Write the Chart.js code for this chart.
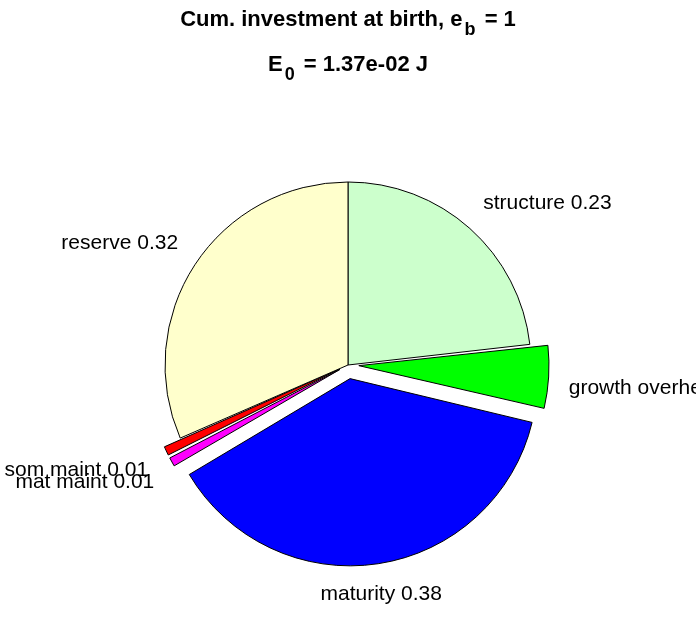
<!DOCTYPE html>
<html>
<head>
<meta charset="utf-8">
<script src="https://cdn.jsdelivr.net/npm/chart.js@4/dist/chart.umd.min.js"></script>
<style>
  body { margin: 0; background: #fff; }
  #wrap { position: relative; width: 696px; height: 618px; }
  #title {
    position: absolute; left: 0; top: -3px; width: 696px;
    text-align: center; font: bold 22px "Liberation Sans", Arial, sans-serif;
    line-height: 43px; color: #000;
  }
  #title span.sb { position: relative; top: 9px; font-size: 18px; margin: 0 3px 0 2px; }
</style>
</head>
<body>
<div id="wrap">
  <canvas id="chart" width="696" height="618"></canvas>
  <div id="title">
    <div>Cum. investment at birth, e<span class="sb">b</span> = 1</div>
    <div>E<span class="sb">0</span> = 1.37e-02 J</div>
  </div>
</div>
<script>
const labels = ["structure", "growth overhead", "maturity", "mat maint", "som maint", "reserve"];
const fractions = [0.232, 0.055, 0.378, 0.0098, 0.0098, 0.3154];
const explode = [0, 1, 1, 1, 1, 0];
const colors = ["#CCFFCC", "#00FF00", "#0000FF", "#FF00FF", "#FF0000", "#FFFFCC"];

const SHIFT = 18;   // how far exploded slices move out, px

// chart.js moves an arc by offset/4 * (1 + fix), so undo that to get a fixed shift
function arcShift(circ) {
  return 1 + (1 - Math.sin(Math.min(Math.PI, circ)));
}

const sliceLabels = {
  id: "sliceLabels",
  afterDatasetsDraw(chart) {
    const ctx = chart.ctx;
    const arcs = chart.getDatasetMeta(0).data;
    ctx.save();
    ctx.font = '21px "Liberation Sans", Arial, sans-serif';
    ctx.fillStyle = "#000";
    arcs.forEach((arc, i) => {
      const mid = (arc.startAngle + arc.endAngle) / 2;
      const d = explode[i] ? SHIFT : 0;
      const r = arc.outerRadius * 1.11 + d;
      const x = arc.x + Math.cos(mid) * r;
      const y = arc.y + Math.sin(mid) * r;
      const c = Math.cos(mid);
      ctx.textAlign = c > 0.3 ? "left" : (c < -0.3 ? "right" : "center");
      ctx.textBaseline = Math.sin(mid) < 0 ? "bottom" : "top";
      ctx.fillText(labels[i] + " " + fractions[i].toFixed(2), x, y);
    });
    ctx.restore();
  }
};

new Chart(document.getElementById("chart"), {
  type: "pie",
  data: {
    labels: labels,
    datasets: [{
      data: fractions,
      backgroundColor: colors,
      borderColor: "#000",
      borderWidth: 1,
      offset: c => {
        if (!explode[c.dataIndex]) return 0;
        const circ = c.parsed * 2 * Math.PI;
        return SHIFT * 4 / arcShift(circ);
      }
    }]
  },
  options: {
    responsive: false,
    animation: false,
    radius: 183,
    layout: { padding: { top: 120, bottom: 8, left: 0, right: 0 } },
    plugins: {
      legend: { display: false },
      tooltip: { enabled: false }
    }
  },
  plugins: [sliceLabels]
});
</script>
</body>
</html>
